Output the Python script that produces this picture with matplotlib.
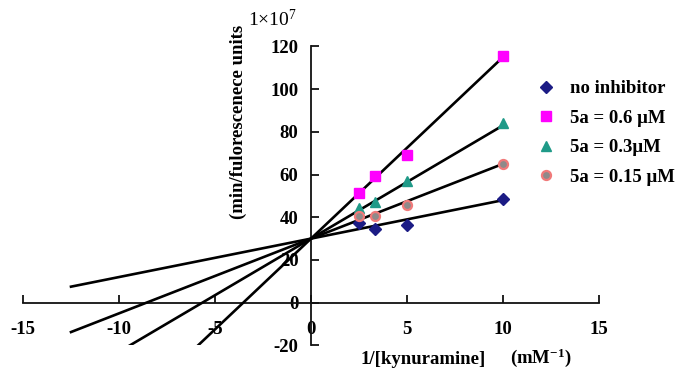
import numpy as np
import matplotlib
matplotlib.use("Agg")
import matplotlib.pyplot as plt

plt.rcParams['font.family'] = ['Liberation Serif', 'DejaVu Serif']
plt.rcParams['mathtext.fontset'] = 'custom'
plt.rcParams['mathtext.rm'] = 'Liberation Serif'
plt.rcParams['mathtext.bf'] = 'Liberation Serif:bold'
plt.rcParams['mathtext.it'] = 'Liberation Serif:italic'

# 1/[kynuramine] (mM-1)
inv_s = [2.5, 3.33, 5, 10]

labels = ['no inhibitor', '5a = 0.6 \u03bcM', '5a = 0.3\u03bcM', '5a = 0.15 \u03bcM']
no_inh = [37.5, 34.4, 36.4, 48.7]
c06 = [51.5, 59.3, 69.2, 115.7]
c03 = [44.2, 47.3, 57.1, 84.0]
c015 = [40.6, 40.6, 45.8, 65.0]

# fitted lines (common intercept)
intercept = 30
slopes = [1.8, 8.5, 5.3, 3.5]
line_x = [-12.5, 10]

xticks = [-15, -10, -5, 0, 5, 10, 15]
yticks = [-20, 0, 20, 40, 60, 80, 100, 120]

fig = plt.figure(figsize=(6.79, 3.69), dpi=100)
ax = fig.add_axes([23/679, 1-345.4/369, 576/679, 299/369])

xs = np.array(line_x)
for k in slopes:
    ax.plot(xs, intercept + k*xs, color='black', lw=1.9, zorder=3)

series = [no_inh, c06, c03, c015]
styles = [
    dict(marker='D', color='#1c1c85', ms=6, mec='#1c1c85'),
    dict(marker='s', color='#ff00ff', ms=7, mec='#ff00ff'),
    dict(marker='^', color='#1f9a88', ms=7, mec='#1f9a88'),
    dict(marker='o', color='#8f8a8a', ms=6.5, mec='#f07a7a', mew=1.6),
]
handles = []
for ys, lab, st in zip(series, labels, styles):
    h, = ax.plot(inv_s, ys, ls='none', label=lab, zorder=4, **st)
    handles.append(h)

ax.set_xlim(-15, 15)
ax.set_ylim(-20, 120)
ax.spines['top'].set_visible(False)
ax.spines['right'].set_visible(False)
ax.spines['left'].set_position(('data', 0))
ax.spines['bottom'].set_position(('data', 0))
for s in ['left', 'bottom']:
    ax.spines[s].set_linewidth(1.3)
    ax.spines[s].set_color('#111111')

ax.set_xticks(xticks)
ax.set_yticks(yticks)
ax.set_xticklabels([str(v) for v in xticks], fontweight='bold', fontsize=13.5)
ax.set_yticklabels([str(v) for v in yticks], fontweight='bold', fontsize=13.5)
ax.tick_params(axis='x', direction='in', length=6, width=1.3, pad=13, color='#111111')
ax.tick_params(axis='y', direction='in', length=6, width=1.3, pad=9, color='#111111')

leg = ax.legend(handles=handles, loc='upper left', bbox_to_anchor=(537/679, 1-80/369),
                bbox_transform=fig.transFigure, frameon=False, borderpad=0, borderaxespad=0,
                handlelength=1.0, handletextpad=0.75, labelspacing=0.66,
                prop={'weight': 'bold', 'size': 13.5})

fig.text(238/679, 1-122/369, '(min/fulorescenece units', rotation=90, ha='center', va='center',
         fontsize=13.5, fontweight='bold')
fig.text(248/679, 1-19/369, '1\u00d710$^{7}$', ha='left', va='center', fontsize=14)
fig.text(360/679, 1-360/369, '1/[kynuramine]', ha='left', va='center', fontsize=13.5, fontweight='bold')
fig.text(510/679, 1-358/369, r'(mM$^{\mathbf{-1}}$)', ha='left', va='center', fontsize=13.5, fontweight='bold')

fig.savefig('out.png', dpi=100)
